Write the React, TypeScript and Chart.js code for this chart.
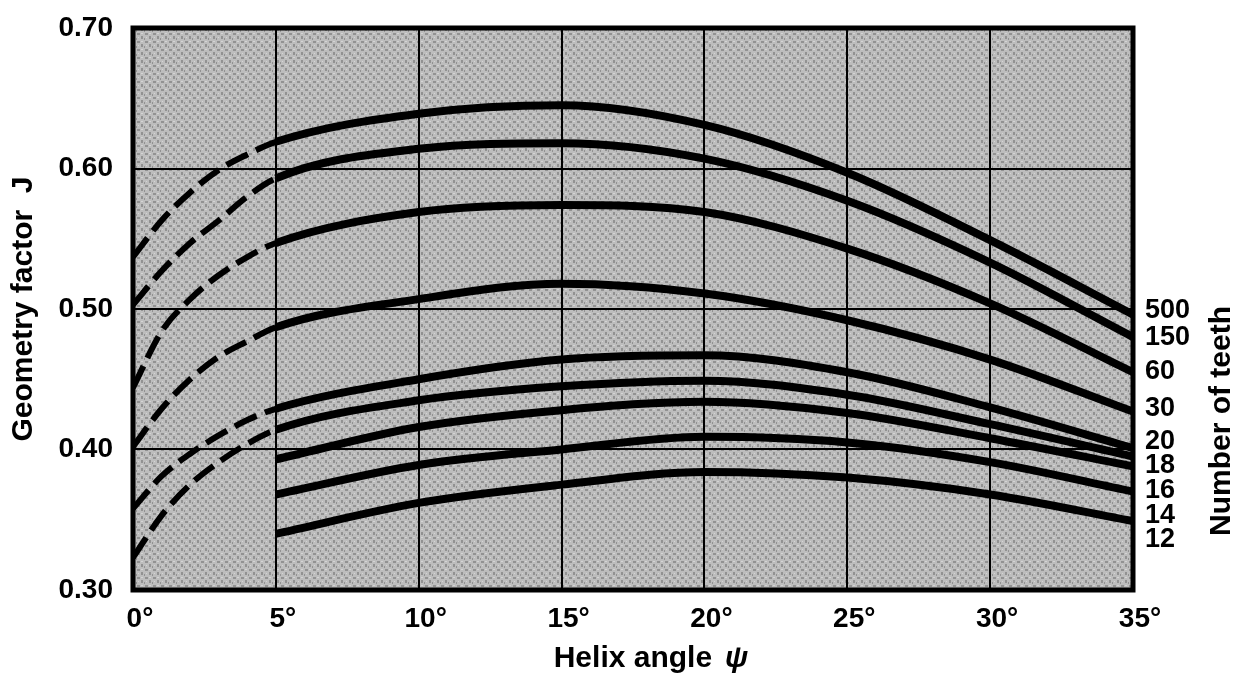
import React, { useEffect, useRef } from 'react';
import { Chart, registerables } from 'chart.js';

Chart.register(...registerables);

// Helix angle (degrees) sample positions
const helixAngles = [0, 1, 2, 3, 4, 5, 10, 15, 20, 25, 30, 35];
const solidAngles = [5, 10, 15, 20, 25, 30, 35];
const dashedUntil = 5;

// Geometry factor J for each number of teeth
const j500 = [0.537, 0.563, 0.583, 0.599, 0.61, 0.619, 0.639, 0.645, 0.631, 0.597, 0.549, 0.496];
const j150 = [0.503, 0.527, 0.547, 0.563, 0.58, 0.593, 0.614, 0.618, 0.607, 0.577, 0.533, 0.48];
const j60 = [0.444, 0.484, 0.507, 0.524, 0.537, 0.547, 0.569, 0.574, 0.569, 0.543, 0.504, 0.455];
const j30 = [0.402, 0.429, 0.45, 0.466, 0.477, 0.487, 0.507, 0.518, 0.511, 0.492, 0.464, 0.427];
const j20 = [0.358, 0.381, 0.397, 0.41, 0.421, 0.429, 0.45, 0.464, 0.467, 0.455, 0.43, 0.401];
const j18 = [0.323, 0.353, 0.375, 0.391, 0.404, 0.414, 0.435, 0.445, 0.449, 0.439, 0.418, 0.395];
const j16 = [0.393, 0.416, 0.428, 0.434, 0.426, 0.408, 0.388];
const j14 = [0.368, 0.389, 0.4, 0.409, 0.405, 0.391, 0.37];
const j12 = [0.34, 0.362, 0.375, 0.384, 0.38, 0.368, 0.349];

// Right-hand labels (number of teeth) and the J level where each label sits
const teethLabels = ['500', '150', '60', '30', '20', '18', '16', '14', '12'];
const teethLabelLevels = [0.499, 0.4795, 0.4555, 0.4295, 0.406, 0.3883, 0.3705, 0.3527, 0.3356];

const yTicks = [0.3, 0.4, 0.5, 0.6, 0.7];

const FONT = '"Liberation Sans", Arial, Helvetica, sans-serif';

function makePattern(ctx: CanvasRenderingContext2D) {
  const c = document.createElement('canvas');
  c.width = 8;
  c.height = 8;
  const g = c.getContext('2d');
  if (!g) return '#adadad';
  g.fillStyle = '#bdbdbd';
  g.fillRect(0, 0, 8, 8);
  g.fillStyle = '#929292';
  g.fillRect(1, 1, 3, 2);
  g.fillRect(5, 4, 2, 3);
  g.fillRect(0, 6, 1, 2);
  g.fillStyle = '#d4d4d4';
  g.fillRect(5, 1, 2, 1);
  g.fillRect(2, 5, 1, 1);
  return ctx.createPattern(c, 'repeat') || '#adadad';
}

const paperPlugin = {
  id: 'paper',
  beforeDraw(chart: any) {
    const { ctx, chartArea: a } = chart;
    ctx.save();
    ctx.fillStyle = '#ffffff';
    ctx.fillRect(0, 0, chart.width, chart.height);
    ctx.fillStyle = makePattern(ctx);
    ctx.fillRect(a.left, a.top, a.right - a.left, a.bottom - a.top);
    ctx.restore();
  },
  afterDatasetsDraw(chart: any) {
    const { ctx, chartArea: a } = chart;
    ctx.save();
    ctx.strokeStyle = '#000';
    ctx.lineWidth = 5;
    ctx.strokeRect(a.left, a.top, a.right - a.left, a.bottom - a.top);
    ctx.restore();
  },
  afterDraw(chart: any) {
    const { ctx, chartArea: a } = chart;
    ctx.save();
    ctx.fillStyle = '#000';
    ctx.textBaseline = 'middle';
    // x axis title with italic psi
    const t1 = 'Helix angle';
    const t2 = 'ψ';
    ctx.font = `bold 30px ${FONT}`;
    const w1 = ctx.measureText(t1).width;
    ctx.font = `italic bold 30px ${FONT}`;
    const w2 = ctx.measureText(t2).width;
    const gap = 13;
    const total = w1 + gap + w2;
    const cx = (a.left + a.right) / 2 + 18;
    const x0 = cx - total / 2;
    const ty = a.bottom + 69;
    ctx.textAlign = 'left';
    ctx.font = `bold 30px ${FONT}`;
    ctx.fillText(t1, x0, ty);
    ctx.font = `italic bold 30px ${FONT}`;
    ctx.fillText(t2, x0 + w1 + gap, ty);
    // right title
    ctx.translate(chart.width - 18, 421);
    ctx.rotate(-Math.PI / 2);
    ctx.textAlign = 'center';
    ctx.font = `bold 30px ${FONT}`;
    ctx.fillText('Number of teeth', 0, 0);
    ctx.restore();
  },
};

function curve(label: string, xs: number[], ys: number[]) {
  return {
    label,
    data: xs.map((x, i) => ({ x, y: ys[i] })),
    borderColor: '#000',
    backgroundColor: '#000',
    borderWidth: 8,
    pointRadius: 0,
    fill: false,
    cubicInterpolationMode: 'monotone' as const,
    segment: {
      borderDash: (ctx: any) => (ctx.p1.parsed.x <= dashedUntil ? [24, 9] : undefined),
      borderWidth: (ctx: any) => (ctx.p1.parsed.x <= dashedUntil ? 6 : undefined),
    },
  };
}

export default function App() {
  const ref = useRef<HTMLCanvasElement | null>(null);

  useEffect(() => {
    if (!ref.current) return;
    const chart = new Chart(ref.current, {
      type: 'line',
      data: {
        datasets: [
          curve('500', helixAngles, j500),
          curve('150', helixAngles, j150),
          curve('60', helixAngles, j60),
          curve('30', helixAngles, j30),
          curve('20', helixAngles, j20),
          curve('18', helixAngles, j18),
          curve('16', solidAngles, j16),
          curve('14', solidAngles, j14),
          curve('12', solidAngles, j12),
        ],
      },
      options: {
        responsive: false,
        animation: false,
        devicePixelRatio: 1,
        layout: { padding: { top: 28, left: 0, right: 0, bottom: 0 } },
        plugins: {
          legend: { display: false },
          tooltip: { enabled: false },
        },
        scales: {
          x: {
            type: 'linear',
            min: 0,
            max: 35,
            afterFit: (s: any) => {
              s.height = 88;
            },
            ticks: {
              stepSize: 5,
              color: '#000',
              font: { family: FONT, size: 28, weight: 'bold' },
              padding: 12,
              labelOffset: 7,
              maxRotation: 0,
              callback: (v: any) => `${v}°`,
            },
            grid: { color: '#000', lineWidth: 2, drawTicks: false },
            border: { display: false },
          },
          y: {
            type: 'linear',
            position: 'left',
            min: 0.3,
            max: 0.7,
            afterFit: (s: any) => {
              s.width = 133;
            },
            afterBuildTicks: (s: any) => {
              s.ticks = yTicks.map((v) => ({ value: v }));
            },
            ticks: {
              color: '#000',
              font: { family: FONT, size: 28, weight: 'bold' },
              padding: 2,
              callback: (v: any) => Number(v).toFixed(2),
            },
            grid: {
              color: '#000',
              lineWidth: 2,
              drawTicks: true,
              tickLength: 18,
              tickColor: 'rgba(0,0,0,0)',
            },
            border: { display: false },
            title: {
              display: true,
              text: 'Geometry factor  J',
              color: '#000',
              font: { family: FONT, size: 30, weight: 'bold' },
              padding: { top: 6, bottom: 0 },
            },
          },
          y2: {
            type: 'linear',
            position: 'right',
            min: 0.3,
            max: 0.7,
            afterFit: (s: any) => {
              s.width = 107;
            },
            afterBuildTicks: (s: any) => {
              s.ticks = teethLabelLevels.map((v) => ({ value: v }));
            },
            ticks: {
              autoSkip: false,
              color: '#000',
              font: { family: FONT, size: 27, weight: 'bold' },
              padding: 2,
              callback: (_v: any, i: number) => teethLabels[i],
            },
            grid: {
              display: true,
              drawOnChartArea: false,
              drawTicks: true,
              tickLength: 10,
              tickColor: 'rgba(0,0,0,0)',
            },
            border: { display: false },
          },
        },
      },
      plugins: [paperPlugin],
    } as any);
    return () => chart.destroy();
  }, []);

  return (
    <div style={{ position: 'absolute', left: 0, top: 0, width: 1240, height: 678, background: '#fff' }}>
      <canvas ref={ref} width={1240} height={678} style={{ display: 'block' }} />
    </div>
  );
}
